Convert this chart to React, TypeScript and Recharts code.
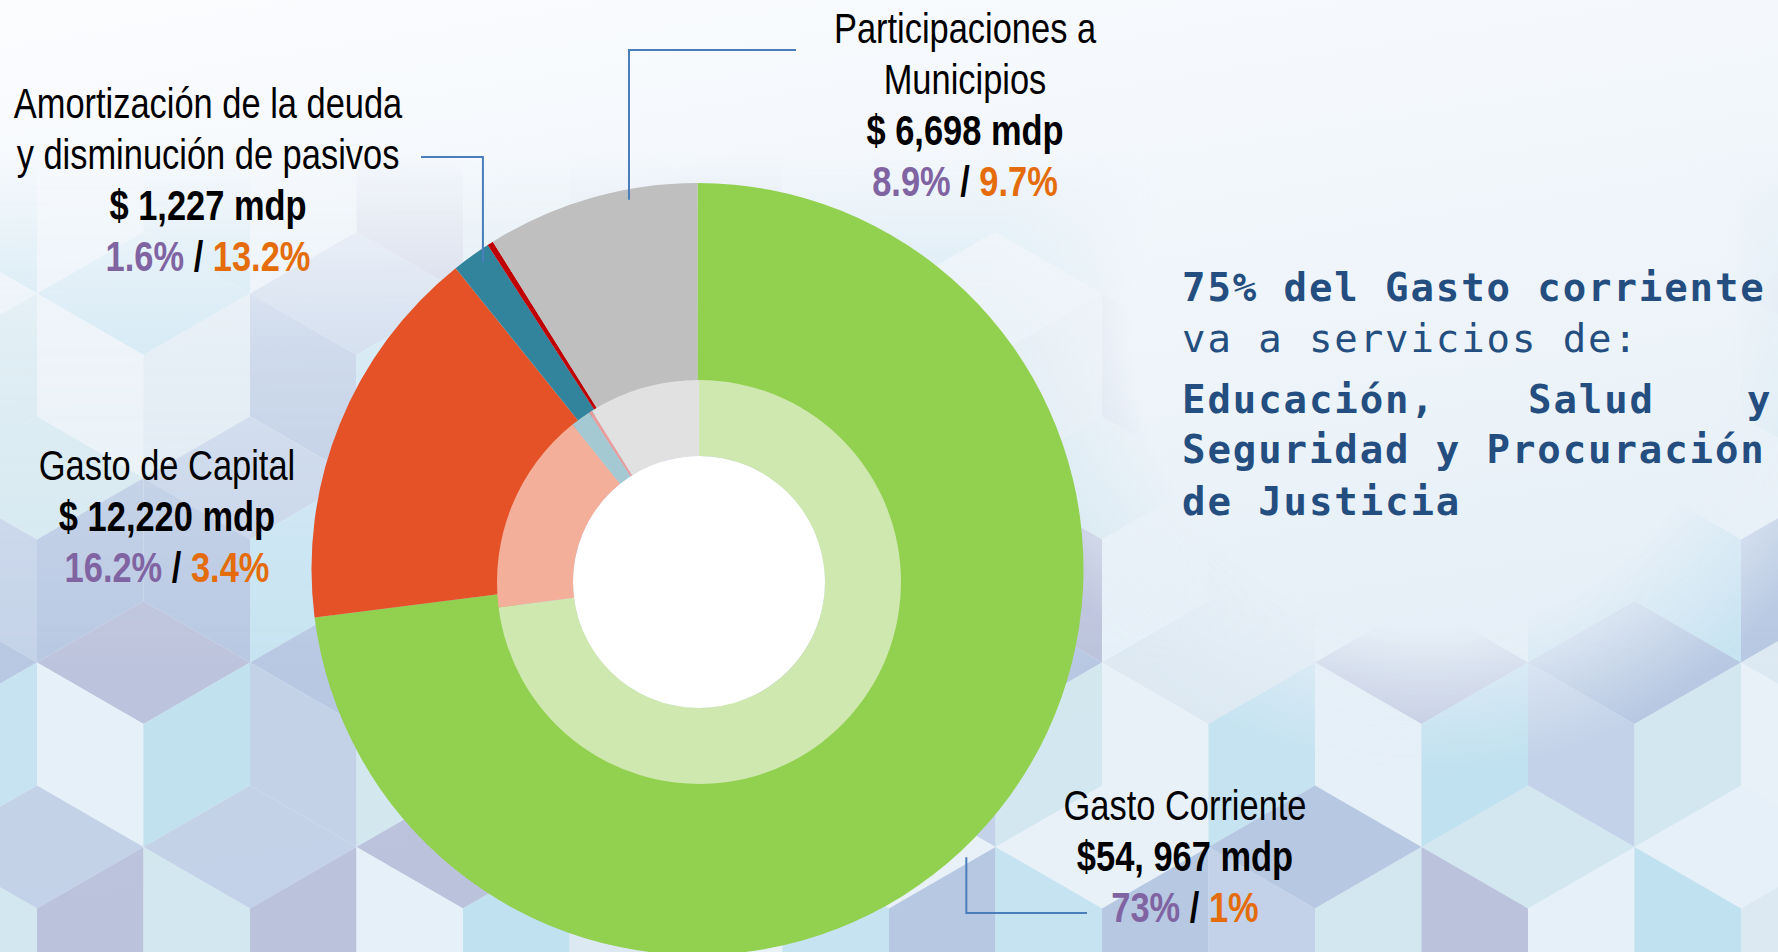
import React from 'react';
import { PieChart, Pie, Cell } from 'recharts';

// ---------- data ----------
const categories = [
  'Gasto Corriente',
  'Gasto de Capital',
  'Amortización de la deuda y disminución de pasivos',
  'Otros',
  'Participaciones a Municipios',
];
const amountsMdp = [54967, 12220, 1227, 190, 6698];
const amountLabels = ['$54, 967 mdp', '$ 12,220 mdp', '$ 1,227 mdp', '', '$ 6,698 mdp'];
const sharePct = [73, 16.2, 1.6, null, 8.9];
const changePct = [1, 3.4, 13.2, null, 9.7];
const titleLines = [
  ['Gasto Corriente'],
  ['Gasto de Capital'],
  ['Amortización de la deuda', 'y disminución de pasivos'],
  [],
  ['Participaciones a', 'Municipios'],
];
const noteLine1 = '75% del Gasto corriente';
const noteLine2 = 'va a servicios de:';
const noteLine3 = ['Educación,', 'Salud', 'y'];
const noteLine4 = 'Seguridad y Procuración';
const noteLine5 = 'de Justicia';

// ---------- styles ----------
const W = 1778;
const H = 952;
const outerColors = ['#92D050', '#E55227', '#31849B', '#C00000', '#BFBFBF'];
const innerColors = ['#CEE8AF', '#F4AF9B', '#A4C9D2', '#E89C9C', '#E1E1E1'];
const PURPLE = '#8064A2';
const ORANGE = '#E46C0A';
const LEADER = '#4A7EBB';
const NOTE = '#244E7F';

const OUTER = { cx: 697.5, cy: 569, r: 386, ir: 185 };
const INNER = { cx: 699, cy: 582, r: 202, ir: 126 };

const LINE_H = 51;
const labelLayout = [
  { x: 1185, y: 820, leader: { angleOffset: -5.6, radiusFactor: 1.021, elbowY: 913, endX: 1087 } },
  { x: 167, y: 480, leader: null },
  { x: 208, y: 118, leader: { angleOffset: -0.9, radiusFactor: 0.97, elbowY: 157, endX: 421 } },
  null,
  { x: 965, y: 43, leader: { angleOffset: -5.5, radiusFactor: 0.973, elbowY: 50, endX: 796 } },
];

const data = categories.map((name, i) => ({ name, value: amountsMdp[i] }));

const RAD = Math.PI / 180;
const FONT = "'Liberation Sans', Arial, Helvetica, sans-serif";

function NarrowText({ x, y, bold, children }: any) {
  return (
    <text
      transform={`translate(${x},${y}) scale(0.82,1)`}
      textAnchor="middle"
      fontFamily={FONT}
      fontSize={42}
      fontWeight={bold ? 700 : 400}
      fill="#000"
    >
      {children}
    </text>
  );
}

function renderLabel(props: any) {
  const { cx, cy, midAngle, outerRadius, index } = props;
  const lay = labelLayout[index];
  if (!lay) return null;
  const lines = titleLines[index];
  const items: any[] = [];
  lines.forEach((t, k) => {
    items.push(
      <NarrowText key={'t' + k} x={lay.x} y={lay.y + k * LINE_H}>
        {t}
      </NarrowText>
    );
  });
  const n = lines.length;
  items.push(
    <NarrowText key="amt" x={lay.x} y={lay.y + n * LINE_H} bold>
      {amountLabels[index]}
    </NarrowText>
  );
  items.push(
    <NarrowText key="pct" x={lay.x} y={lay.y + (n + 1) * LINE_H} bold>
      <tspan fill={PURPLE}>{`${sharePct[index]}%`}</tspan>
      <tspan fill="#000">{' / '}</tspan>
      <tspan fill={ORANGE}>{`${changePct[index]}%`}</tspan>
    </NarrowText>
  );
  let leader = null;
  if (lay.leader) {
    const a = (midAngle + lay.leader.angleOffset) * RAD;
    const rr = outerRadius * lay.leader.radiusFactor;
    const ax = cx + rr * Math.cos(a);
    const ay = cy - rr * Math.sin(a);
    leader = (
      <polyline
        points={`${ax},${ay} ${ax},${lay.leader.elbowY} ${lay.leader.endX},${lay.leader.elbowY}`}
        fill="none"
        stroke={LEADER}
        strokeWidth={2}
      />
    );
  }
  return (
    <g key={'lbl' + index}>
      {leader}
      {items}
    </g>
  );
}

// ---------- decorative background (isometric cubes) ----------
const palette = ['#B4BBD7', '#C1E1F0', '#E6F0F8', '#B0C1DE', '#BADEEE', '#BECDE6', '#DCE8F1', '#CFE5EE', '#E9F1F8'];
function Cubes() {
  const Wd = 213;
  const s = 123;
  const pitch = 184.5;
  const x0 = 143.5;
  const y0 = 724;
  const polys: any[] = [];
  for (let r = -4; r <= 2; r++) {
    for (let c = -1; c <= 9; c++) {
      const x = x0 + c * Wd + (Math.abs(r) % 2 === 1 ? Wd / 2 : 0);
      const y = y0 + r * pitch;
      const top = [x, y - s];
      const ur = [x + Wd / 2, y - s / 2];
      const lr = [x + Wd / 2, y + s / 2];
      const bot = [x, y + s];
      const ll = [x - Wd / 2, y + s / 2];
      const ul = [x - Wd / 2, y - s / 2];
      const ce = [x, y];
      const faces = [
        [top, ur, ce, ul],
        [ul, ce, bot, ll],
        [ce, ur, lr, bot],
      ];
      faces.forEach((f, fi) => {
        const idx = Math.abs(r * 5 + c * 3 + fi * 2 + ((r * c) & 3)) % palette.length;
        polys.push(
          <polygon
            key={`${r}_${c}_${fi}`}
            points={f.map((p) => p.join(',')).join(' ')}
            fill={palette[idx]}
          />
        );
      });
    }
  }
  return <g>{polys}</g>;
}

function Background() {
  return (
    <svg width={W} height={H} style={{ position: 'absolute', left: 0, top: 0 }}>
      <defs>
        <linearGradient id="bg" x1="0" y1="0" x2="0.3" y2="1">
          <stop offset="0" stopColor="#FBFCFE" />
          <stop offset="1" stopColor="#E2EDF6" />
        </linearGradient>
        <linearGradient id="vfade" gradientUnits="userSpaceOnUse" x1="0" y1="0" x2="0" y2={H}>
          <stop offset="0" stopColor="#000" />
          <stop offset="0.16" stopColor="#000" />
          <stop offset="0.36" stopColor="#999" />
          <stop offset="0.7" stopColor="#fff" />
          <stop offset="1" stopColor="#fff" />
        </linearGradient>
        <radialGradient id="rfade" gradientUnits="userSpaceOnUse" cx={1430} cy={330} r={440}>
          <stop offset="0" stopColor="#000" />
          <stop offset="0.68" stopColor="#000" />
          <stop offset="1" stopColor="#fff" />
        </radialGradient>
        <mask id="maskV" maskUnits="userSpaceOnUse" x="0" y="0" width={W} height={H}>
          <rect x="0" y="0" width={W} height={H} fill="url(#vfade)" />
        </mask>
        <mask id="maskR" maskUnits="userSpaceOnUse" x="0" y="0" width={W} height={H}>
          <rect x="0" y="0" width={W} height={H} fill="url(#rfade)" />
        </mask>
      </defs>
      <rect x="0" y="0" width={W} height={H} fill="url(#bg)" />
      <g mask="url(#maskV)">
        <g mask="url(#maskR)" opacity={0.85}>
          <Cubes />
        </g>
      </g>
      <circle cx={INNER.cx} cy={INNER.cy} r={INNER.ir} fill="#FFFFFF" />
      <g fill={NOTE} fontFamily="'DejaVu Sans Mono', monospace" fontSize={39} letterSpacing={1.9}>
        <text x={1182} y={301} fontWeight={700}>{noteLine1}</text>
        <text x={1182} y={352} fontWeight={400}>{noteLine2}</text>
        <text y={413} fontWeight={700}>
          <tspan x={1182}>{noteLine3[0]}</tspan>
          <tspan x={1528}>{noteLine3[1]}</tspan>
          <tspan x={1747}>{noteLine3[2]}</tspan>
        </text>
        <text x={1182} y={463} fontWeight={700}>{noteLine4}</text>
        <text x={1182} y={515} fontWeight={700}>{noteLine5}</text>
      </g>
    </svg>
  );
}

export default function App() {
  return (
    <div style={{ position: 'fixed', left: 0, top: 0, width: W, height: H, overflow: 'hidden', background: '#fff' }}>
      <Background />
      <div style={{ position: 'absolute', left: 0, top: 0 }}>
        <PieChart width={W} height={H} margin={{ top: 0, right: 0, bottom: 0, left: 0 }}>
          <Pie
            data={data}
            dataKey="value"
            nameKey="name"
            cx={OUTER.cx}
            cy={OUTER.cy}
            innerRadius={OUTER.ir}
            outerRadius={OUTER.r}
            startAngle={90}
            endAngle={-270}
            stroke="none"
            isAnimationActive={false}
            label={renderLabel}
            labelLine={false}
          >
            {data.map((d, i) => (
              <Cell key={d.name} fill={outerColors[i]} />
            ))}
          </Pie>
          <Pie
            data={data}
            dataKey="value"
            nameKey="name"
            cx={INNER.cx}
            cy={INNER.cy}
            innerRadius={INNER.ir}
            outerRadius={INNER.r}
            startAngle={90}
            endAngle={-270}
            stroke="none"
            isAnimationActive={false}
          >
            {data.map((d, i) => (
              <Cell key={d.name} fill={innerColors[i]} />
            ))}
          </Pie>
        </PieChart>
      </div>
    </div>
  );
}
